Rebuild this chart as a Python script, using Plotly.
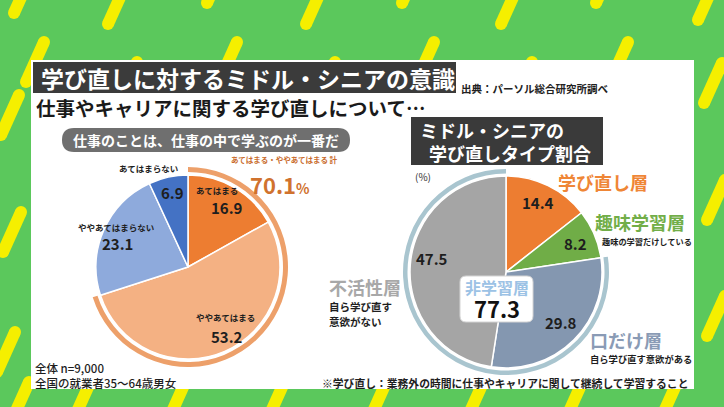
import plotly.graph_objects as go

W, H = 724, 407
FONT = "Noto Sans CJK JP"

# ---------------- data ----------------
title_text = "学び直しに対するミドル・シニアの意識"
source_text = "出典：パーソル総合研究所調べ"
subtitle_text = "仕事やキャリアに関する学び直しについて…"
left_question = "仕事のことは、仕事の中で学ぶのが一番だ"

left_labels = ["あてはまる", "ややあてはまる", "ややあてはまらない", "あてはまらない"]
left_values = [16.9, 53.2, 23.1, 6.9]
left_colors = ["#ed7d31", "#f4b183", "#8eaadc", "#4472c4"]
left_total_label = "あてはまる・ややあてはまる 計"
left_total = 70.1
left_ring_color = "#eda06a"
sample_notes = ["全体 n=9,000", "全国の就業者35～64歳男女"]

right_title = ["ミドル・シニアの", "学び直しタイプ割合"]
right_labels = ["学び直し層", "趣味学習層", "口だけ層", "不活性層"]
right_values = [14.4, 8.2, 29.8, 47.5]
right_colors = ["#ed7d31", "#70ad47", "#8497b0", "#a5a5a5"]
right_label_colors = ["#ef8636", "#72ae48", "#8a9bb5", "#a8a8a8"]
right_notes = ["", "趣味の学習だけしている", "自ら学び直す意欲がある", "自ら学び直す<br>意欲がない"]
non_learning_label = "非学習層"
non_learning_total = 77.3
right_ring_color = "#a9c5cf"
unit_text = "(%)"
footnote = "※学び直し：業務外の時間に仕事やキャリアに関して継続して学習すること"

GREEN = "#5bc85c"
YELLOW = "#f5ef00"


def X(px):
    return px / W


def Y(py):
    return 1 - py / H


def dom(cx, cy, r):
    return dict(x=[X(cx - r), X(cx + r)], y=[Y(cy + r), Y(cy - r)])


def ann(text, x, y, size, color="#1e1e1e", weight=700, xanchor="center", align="center", yanchor="middle"):
    return dict(text=text, x=X(x), y=Y(y), xref="paper", yref="paper", showarrow=False,
                xanchor=xanchor, yanchor=yanchor, align=align,
                font=dict(family=FONT, size=size, color=color, weight=weight))


def rect(x0, y0, x1, y1, color, layer="below", line=None):
    d = dict(type="rect", xref="paper", yref="paper", x0=X(x0), x1=X(x1), y0=Y(y1), y1=Y(y0),
             fillcolor=color, layer=layer, line=dict(width=0))
    if line:
        d["line"] = line
    return d


def rrect(x0, y0, x1, y1, r, color, layer="below", line=None):
    p = (f"M {X(x0 + r)},{Y(y0)} L {X(x1 - r)},{Y(y0)} Q {X(x1)},{Y(y0)} {X(x1)},{Y(y0 + r)} "
         f"L {X(x1)},{Y(y1 - r)} Q {X(x1)},{Y(y1)} {X(x1 - r)},{Y(y1)} "
         f"L {X(x0 + r)},{Y(y1)} Q {X(x0)},{Y(y1)} {X(x0)},{Y(y1 - r)} "
         f"L {X(x0)},{Y(y0 + r)} Q {X(x0)},{Y(y0)} {X(x0 + r)},{Y(y0)} Z")
    d = dict(type="path", xref="paper", yref="paper", path=p, fillcolor=color, layer=layer,
             line=dict(width=0))
    if line:
        d["line"] = line
    return d


shapes = []
# ---------------- background stripes ----------------
stripe_centers = [
    (23, -7), (117, 4), (216, -17), (315, 4), (411, -17), (510, 4), (605, -17), (707, 0),
    (35, 62), (128, 82), (228, 62), (326, 82), (425, 62), (523, 82), (619, 62), (713, 83),
    (10, 115), (12, 232), (6, 352), (20, 402),
    (716, 200), (716, 316),
    (80, 405), (175, 405), (274, 405), (376, 405), (473, 405), (572, 405), (667, 405),
]
SW = 12
for cx, cy in stripe_centers:
    xa, ya = cx + 9, cy - 20
    xb, yb = cx - 9, cy + 20
    shapes.append(dict(type="line", xref="paper", yref="paper", x0=X(xa), y0=Y(ya), x1=X(xb), y1=Y(yb),
                       line=dict(color=YELLOW, width=SW), layer="below"))
    for ex, ey in ((xa, ya), (xb, yb)):
        shapes.append(dict(type="circle", xref="paper", yref="paper",
                           x0=X(ex - SW / 2), x1=X(ex + SW / 2), y0=Y(ey + SW / 2), y1=Y(ey - SW / 2),
                           fillcolor=YELLOW, line=dict(width=0), layer="below"))

# white panel
shapes.append(rect(31, 60, 694, 389, "white"))
# title box
shapes.append(rect(33, 62, 456, 93, "#3b3b3b"))
# left question pill
shapes.append(rrect(62, 128, 350, 152, 12, "#6f6f6f"))
# right title box
shapes.append(rect(411, 117, 603, 165, "#3a3a3a"))
# non-learning label box (above the pie)
shapes.append(rrect(460, 276, 533, 322, 6, "white", layer="above",
                    line=dict(color="#d4d4d4", width=1)))

# ---------------- pies ----------------
LCX, LCY, LR = 188, 267, 92
RCX, RCY, RR = 506, 272, 96

fig = go.Figure()
fig.add_trace(go.Pie(values=[left_total, 100 - left_total], sort=False, direction="clockwise", rotation=0,
                     domain=dom(LCX, LCY, 100), hole=95 / 100,
                     marker=dict(colors=[left_ring_color, "rgba(0,0,0,0)"], line=dict(width=0)),
                     textinfo="none", hoverinfo="skip", showlegend=False))
fig.add_trace(go.Pie(labels=left_labels, values=left_values, sort=False, direction="clockwise", rotation=0,
                     domain=dom(LCX, LCY, LR),
                     marker=dict(colors=left_colors, line=dict(color="white", width=1.5)),
                     textinfo="none", hoverinfo="skip", showlegend=False))
learn_sum = right_values[0] + right_values[1]
fig.add_trace(go.Pie(values=[learn_sum, non_learning_total], sort=False, direction="clockwise", rotation=0,
                     domain=dom(RCX, RCY, 103), hole=98.5 / 103,
                     marker=dict(colors=["rgba(0,0,0,0)", right_ring_color], line=dict(width=0)),
                     textinfo="none", hoverinfo="skip", showlegend=False))
fig.add_trace(go.Pie(labels=right_labels, values=right_values, sort=False, direction="clockwise", rotation=0,
                     domain=dom(RCX, RCY, RR),
                     marker=dict(colors=right_colors, line=dict(color="white", width=1.5)),
                     textinfo="none", hoverinfo="skip", showlegend=False))

# ---------------- text ----------------
anns = [
    ann(title_text, 39, 78, 23, color="white", xanchor="left"),
    ann(source_text, 459, 88, 10.5, color="#222", xanchor="left"),
    ann(subtitle_text, 34, 107, 19.5, color="#1a1a1a", xanchor="left"),
    ann(left_question, 206, 140, 14, color="white"),
    # left pie labels
    ann(left_labels[3], 148, 168, 8.5),
    ann(f"{left_values[3]}", 172, 192, 15),
    ann(left_labels[0], 217, 190, 8.5),
    ann(f"{left_values[0]}", 227, 207, 15),
    ann(left_labels[2], 116, 227, 8.5),
    ann(f"{left_values[2]}", 117, 244, 15),
    ann(left_labels[1], 225, 317, 8.5),
    ann(f"{left_values[1]}", 227, 336, 15),
    ann(left_total_label, 284, 160, 7.5, color="#c96b2b"),
    ann(f"{left_total}<span style='font-size:14px'>%</span>", 280, 184, 22, color="#d0722e"),
    ann(f"{sample_notes[0]}<br>{sample_notes[1]}",
        33, 375.5, 11.5, color="#1e1e1e", weight=500, xanchor="left", align="left"),
    # right
    ann(f"{right_title[0]}<br>\u2002{right_title[1]}",
        418, 141, 18, color="white", xanchor="left", align="left"),
    ann(unit_text, 423, 176, 10, color="#333", weight=400),
    ann(right_labels[0], 603, 182, 18, color=right_label_colors[0]),
    ann(f"{right_values[0]}", 538, 202, 15),
    ann(right_labels[1], 640, 222, 18, color=right_label_colors[1]),
    ann(right_notes[1], 600, 241, 8.2, xanchor="left"),
    ann(f"{right_values[1]}", 575, 243, 15),
    ann(f"{right_values[3]}", 432, 258, 15),
    ann(f"<span style='font-size:18px;color:{right_label_colors[3]}'>{right_labels[3]}</span><br>"
        f"<span style='font-size:10.5px'>{right_notes[3]}</span>",
        327, 301, 12, xanchor="left", align="left", weight=600),
    ann(f"<span style='font-size:16px;color:#9cc2e5'>{non_learning_label}</span><br>"
        f"<span style='font-size:22px'>{non_learning_total}</span>",
        497, 299, 18.5, color="#111"),
    ann(f"{right_values[2]}", 561, 322, 15),
    ann(right_labels[2], 588, 340, 18, color=right_label_colors[2], xanchor="left"),
    ann(right_notes[2], 588, 359, 9.3, xanchor="left"),
    ann(footnote, 690, 383, 10.8, color="#1e1e1e", xanchor="right"),
]

fig.update_layout(width=W, height=H, margin=dict(l=0, r=0, t=0, b=0),
                  paper_bgcolor=GREEN, plot_bgcolor=GREEN,
                  shapes=shapes, annotations=anns, showlegend=False)

fig.write_html("out.html", config={"displayModeBar": False},
               post_script="document.body.style.margin='0';document.body.style.padding='0';")
